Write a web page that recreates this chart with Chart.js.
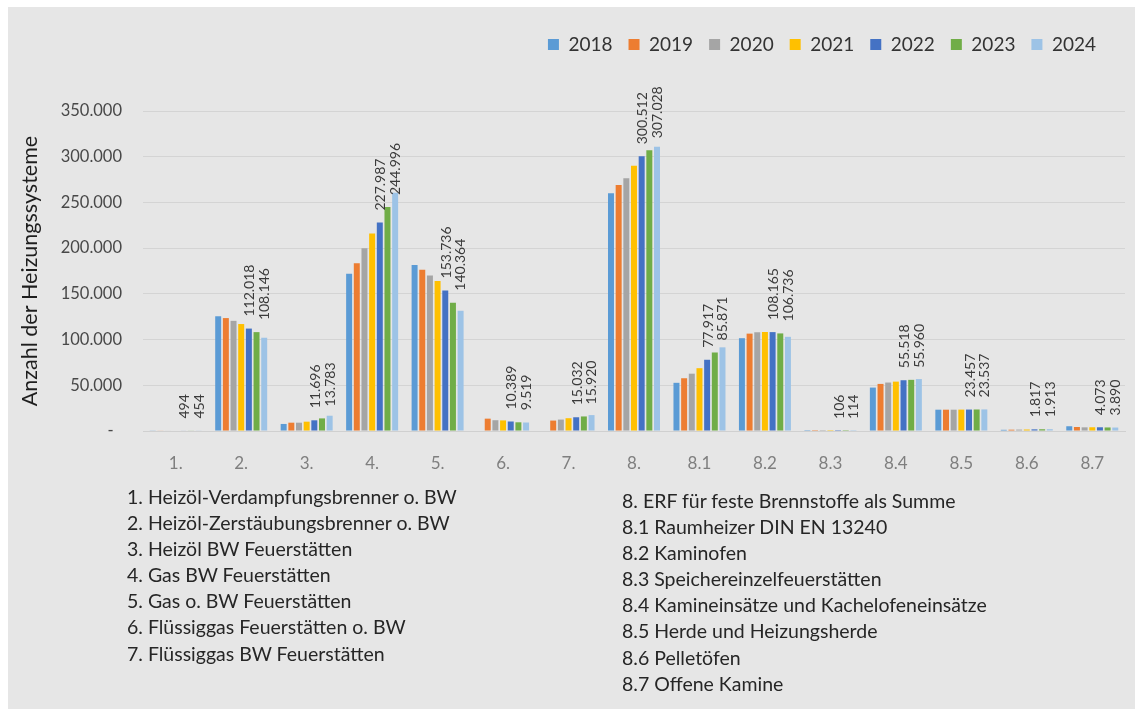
<!DOCTYPE html>
<html lang="de">
<head>
<meta charset="utf-8">
<title>Heizungssysteme 2018–2024</title>
<script src="https://cdn.jsdelivr.net/npm/chart.js@4/dist/chart.umd.min.js"></script>
<style>
  html, body { margin: 0; padding: 0; background: #ffffff; }
  #panel { position: absolute; left: 8px; top: 7px; width: 1127px; height: 702px; background: #e6e6e6; }
  #wrap { position: absolute; left: 0; top: 0; width: 1135px; height: 709px; }
  .notes { position: absolute; font-family: Lato, "Liberation Sans", sans-serif; font-size: 19.5px;
           color: #262626; line-height: 26.1px; white-space: nowrap; }
</style>
</head>
<body>
<div id="panel"></div>
<div id="wrap"><canvas id="chart" width="1135" height="709"></canvas></div>
<div class="notes" id="notesLeft" style="left:127px; top:484px;"></div>
<div class="notes" id="notesRight" style="left:622px; top:488px;"></div>
<script>
// Kategorien der Feuerstätten (Achsenbeschriftung)
const categories = ['1.', '2.', '3.', '4.', '5.', '6.', '7.', '8.', '8.1', '8.2', '8.3', '8.4', '8.5', '8.6', '8.7'];

// Berichtsjahre
const years = ['2018', '2019', '2020', '2021', '2022', '2023', '2024'];

// Anzahl der Heizungssysteme je Jahr und Kategorie
const values2018 = [700, 125500, 7700, 172000, 181500, null, null, 260000, 52700, 101500, 95, 47500, 23300, 1300, 5200];
const values2019 = [640, 123500, 9100, 183500, 176500, 13500, 11400, 269000, 57700, 106500, 98, 51500, 23300, 1450, 4400];
const values2020 = [600, 120500, 9100, 200000, 170000, 11800, 12500, 276500, 62700, 108000, 100, 53000, 23300, 1550, 4000];
const values2021 = [540, 117000, 10200, 216000, 164000, 11600, 14000, 290000, 68700, 108300, 103, 54000, 23400, 1650, 4100];
const values2022 = [494, 112018, 11696, 227987, 153736, 10389, 15032, 300512, 77917, 108165, 106, 55518, 23457, 1817, 4073];
const values2023 = [454, 108146, 13783, 244996, 140364, 9519, 15920, 307028, 85871, 106736, 114, 55960, 23537, 1913, 3890];
const values2024 = [420, 102000, 16700, 260500, 131500, 9300, 17400, 311000, 91500, 103000, 120, 56800, 23600, 2000, 3800];

// Y-Achse: Skalenwerte
const yTicks = [0, 50000, 100000, 150000, 200000, 250000, 300000, 350000];

// Erläuterungen der Kategorien
const notesLeft = [
  '1. Heizöl-Verdampfungsbrenner o. BW',
  '2. Heizöl-Zerstäubungsbrenner o. BW',
  '3. Heizöl BW Feuerstätten',
  '4. Gas BW Feuerstätten',
  '5. Gas o. BW Feuerstätten',
  '6. Flüssiggas Feuerstätten o. BW',
  '7. Flüssiggas BW Feuerstätten'
];
const notesRight = [
  '8. ERF für feste Brennstoffe als Summe',
  '8.1 Raumheizer DIN EN 13240',
  '8.2 Kaminofen',
  '8.3 Speichereinzelfeuerstätten',
  '8.4 Kamineinsätze und Kachelofeneinsätze',
  '8.5 Herde und Heizungsherde',
  '8.6 Pelletöfen',
  '8.7 Offene Kamine'
];

function fillNotes(id, lines) {
  const box = document.getElementById(id);
  lines.forEach(t => { const d = document.createElement('div'); d.textContent = t; box.appendChild(d); });
}
fillNotes('notesLeft', notesLeft);
fillNotes('notesRight', notesRight);

const seriesValues = [values2018, values2019, values2020, values2021, values2022, values2023, values2024];
const seriesColors = ['#5B9BD5', '#ED7D31', '#A5A5A5', '#FFC000', '#4472C4', '#70AD47', '#9DC3E6'];

// Tausenderpunkt wie im deutschen Zahlenformat
function formatDe(n) {
  return String(Math.round(n)).replace(/\B(?=(\d{3})+(?!\d))/g, '.');
}

// Wertebeschriftung für 2022 und 2023, senkrecht über den Säulen
const valueLabels = {
  id: 'valueLabels',
  afterDatasetsDraw(chart) {
    const ctx = chart.ctx;
    const labelled = [{ index: 4, shift: 1 }, { index: 5, shift: 8 }];
    ctx.save();
    ctx.font = '14px Lato, "Liberation Sans", sans-serif';
    ctx.fillStyle = '#3a3a3a';
    ctx.textAlign = 'left';
    ctx.textBaseline = 'middle';
    labelled.forEach(({ index, shift }) => {
      const meta = chart.getDatasetMeta(index);
      const data = chart.data.datasets[index].data;
      meta.data.forEach((bar, i) => {
        if (data[i] == null) return;
        ctx.save();
        ctx.translate(bar.x + shift, bar.y - 12);
        ctx.rotate(-Math.PI / 2);
        ctx.fillText(formatDe(data[i]), 0, 0);
        ctx.restore();
      });
    });
    ctx.restore();
  }
};

// Legende oben rechts mit mehr Abstand zum Diagrammbereich
const legendSpacing = {
  id: 'legendSpacing',
  beforeLayout(chart) {
    const lg = chart.legend;
    if (lg && !lg._spaced) {
      const fit = lg.fit;
      lg.fit = function () { fit.call(this); this.height = 92; };
      lg._spaced = true;
    }
  },
  afterLayout(chart) {
    const lg = chart.legend;
    if (lg) { lg.left -= 13; lg.right -= 13; }
  }
};

Chart.defaults.font.family = 'Lato, "Liberation Sans", sans-serif';

new Chart(document.getElementById('chart'), {
  type: 'bar',
  data: {
    labels: categories,
    datasets: years.map((y, i) => ({
      label: y,
      data: seriesValues[i],
      backgroundColor: seriesColors[i],
      borderWidth: 0,
      categoryPercentage: 0.82,
      barPercentage: 0.78
    }))
  },
  options: {
    responsive: false,
    devicePixelRatio: 1,
    animation: false,
    layout: { padding: { left: 8, right: 10, top: 19, bottom: 218 } },
    plugins: {
      legend: {
        position: 'top',
        align: 'end',
        labels: {
          boxWidth: 11,
          boxHeight: 11,
          padding: 16,
          color: '#333333',
          font: { size: 19 }
        }
      },
      tooltip: { enabled: false },
      title: { display: false }
    },
    scales: {
      x: {
        grid: { display: false },
        border: { display: true, color: '#d0d0d0' },
        ticks: { color: '#7f7f7f', font: { size: 17 }, padding: 14 },
        afterFit(scale) { scale.height = 60; }
      },
      y: {
        min: 0,
        max: 350000,
        afterBuildTicks(scale) { scale.ticks = yTicks.map(v => ({ value: v })); },
        grid: { color: '#d4d4d4', lineWidth: 1, drawTicks: false },
        border: { display: false },
        ticks: {
          color: '#484848',
          font: { size: 16.5 },
          padding: 21,
          callback: v => (v === 0 ? '-  ' : formatDe(v))
        },
        title: {
          display: true,
          text: 'Anzahl der Heizungssysteme',
          color: '#1e1e1e',
          font: { size: 21.5 },
          padding: { top: 9, bottom: 0 }
        },
        afterFit(scale) { scale.width = 135; }
      }
    }
  },
  plugins: [valueLabels, legendSpacing]
});
</script>
</body>
</html>
